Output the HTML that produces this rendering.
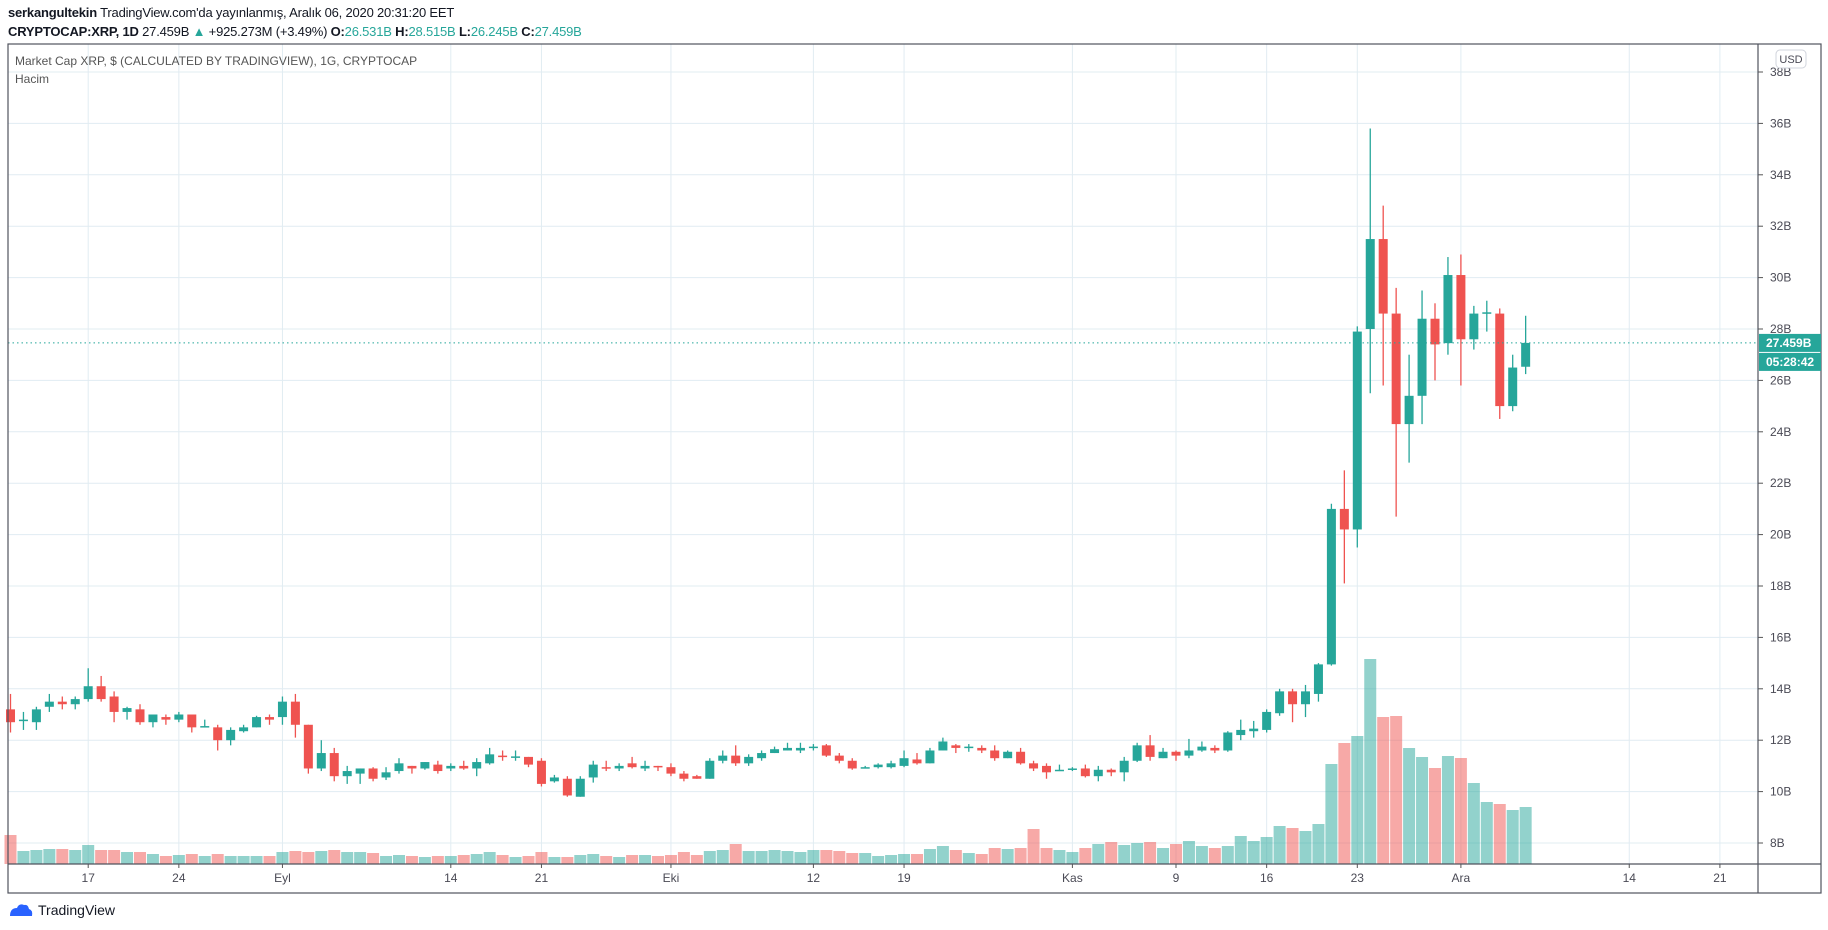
<!DOCTYPE html>
<html><head><meta charset="utf-8">
<style>
body{margin:0;width:1828px;height:930px;background:#fff;overflow:hidden;font-family:"Liberation Sans",sans-serif;}
#hdr1{position:absolute;left:8px;top:5px;font-size:13px;color:#131722;letter-spacing:-0.2px}
#hdr2{position:absolute;left:8px;top:24px;font-size:13px;color:#131722;letter-spacing:-0.2px}
.g{color:#26a69a}
#foot{position:absolute;left:8px;top:902px;font-size:14px;color:#131722;display:flex;align-items:center;gap:4px}
svg{position:absolute;left:0;top:0}
</style></head><body>
<div id="hdr1"><b>serkangultekin</b> TradingView.com'da yayınlanmış, Aralık 06, 2020 20:31:20 EET</div>
<div id="hdr2"><b>CRYPTOCAP:XRP, 1D</b> 27.459B <span class="g">▲</span> +925.273M (+3.49%) <b>O:</b><span class="g">26.531B</span> <b>H:</b><span class="g">28.515B</span> <b>L:</b><span class="g">26.245B</span> <b>C:</b><span class="g">27.459B</span></div>
<svg id="chart" width="1828" height="930"></svg>
<div id="foot"><svg width="26" height="16" style="position:static"><path d="M2 14 Q2 6 9 6 Q11 1 16 3 Q20 2 21 7 Q25 8 24 14 Z" fill="#2962ff"/></svg><span>TradingView</span></div>
<script>
const opens=[13.2,12.8,12.7,13.3,13.5,13.4,13.6,14.1,13.7,13.1,13.2,12.7,12.9,12.8,13.0,12.55,12.5,12.0,12.35,12.5,12.9,
12.9,13.5,12.6,10.9,11.5,10.6,10.7,10.9,10.55,10.8,11.0,10.9,11.05,10.9,11.0,10.9,11.1,11.4,11.37,11.35,11.2,10.4,10.5,9.8,10.55,10.95,10.9,11.1,10.9,11.0,
10.95,10.7,10.6,10.5,11.2,11.4,11.1,11.3,11.5,11.6,11.6,11.7,11.8,11.4,11.2,10.95,10.95,10.95,11.0,11.25,11.1,11.6,11.8,11.7,11.7,11.6,11.3,11.55,11.1,11.0,10.85,
10.85,10.9,10.6,10.85,10.75,11.2,11.8,11.3,11.55,11.4,11.6,11.7,11.6,12.2,12.35,12.4,13.05,13.9,13.4,13.8,14.95,21.0,20.2,28.0,31.5,28.6,24.3,25.4,28.4,27.45,
30.1,27.6,28.6,28.6,25.0,26.531];
const closes=[12.7,12.8,13.2,13.5,13.4,13.6,14.1,13.6,13.1,13.25,12.7,13.0,12.8,13.0,12.5,12.55,12.0,12.4,12.5,12.9,12.8,
13.5,12.6,10.9,11.5,10.6,10.8,10.9,10.5,10.75,11.1,10.9,11.15,10.8,11.0,10.9,11.15,11.45,11.35,11.37,11.05,10.3,10.55,9.85,10.5,11.05,10.93,11.0,10.95,11.0,10.95,
10.7,10.5,10.5,11.2,11.4,11.1,11.35,11.5,11.65,11.7,11.7,11.75,11.4,11.2,10.9,10.95,11.05,11.1,11.3,11.1,11.6,11.95,11.7,11.75,11.6,11.3,11.55,11.1,10.9,10.75,10.85,
10.9,10.6,10.85,10.75,11.2,11.8,11.35,11.55,11.4,11.6,11.75,11.6,12.3,12.4,12.45,13.1,13.9,13.4,13.9,14.95,21.0,20.2,27.9,31.5,28.6,24.3,25.4,28.4,27.4,30.1,
27.6,28.6,28.65,25.0,26.5,27.459];
const highs=[13.8,13.1,13.3,13.8,13.7,13.7,14.8,14.5,13.9,13.3,13.4,13.0,13.0,13.1,13.0,12.8,12.6,12.5,12.6,12.95,13.0,
13.7,13.8,12.6,12.0,11.7,11.0,10.9,10.95,10.95,11.3,11.0,11.15,11.2,11.1,11.2,11.3,11.7,11.6,11.6,11.35,11.3,10.65,10.6,10.6,11.2,11.2,11.1,11.35,11.2,11.0,
11.1,10.8,10.65,11.3,11.6,11.8,11.45,11.6,11.75,11.9,11.9,11.85,11.85,11.5,11.3,11.0,11.1,11.2,11.6,11.5,11.7,12.1,11.85,11.85,11.8,11.8,11.6,11.7,11.2,11.1,11.05,
10.95,11.05,11.0,10.9,11.35,11.9,12.2,11.7,11.6,12.05,11.95,11.8,12.35,12.8,12.75,13.2,14.0,14.0,14.15,15.0,21.2,22.5,28.1,35.8,32.8,29.6,27.0,29.5,29.0,30.8,
30.9,28.9,29.1,28.8,27.0,28.515];
const lows=[12.3,12.4,12.4,13.1,13.2,13.2,13.5,13.5,12.7,12.8,12.6,12.5,12.6,12.7,12.3,12.5,11.6,11.8,12.3,12.5,12.6,
12.6,12.1,10.7,10.8,10.4,10.3,10.3,10.4,10.45,10.7,10.7,10.85,10.7,10.8,10.85,10.6,11.05,11.2,11.2,10.95,10.2,10.35,9.8,9.8,10.35,10.8,10.8,10.9,10.8,10.8,
10.6,10.4,10.5,10.5,11.1,11.0,11.0,11.2,11.5,11.6,11.5,11.6,11.35,11.1,10.85,10.9,10.9,10.9,10.95,11.05,11.1,11.6,11.5,11.55,11.5,11.2,11.3,11.05,10.8,10.5,10.8,
10.8,10.55,10.4,10.6,10.4,11.15,11.2,11.3,11.2,11.3,11.55,11.5,11.55,12.0,12.1,12.3,12.95,12.7,12.9,13.5,14.9,18.1,19.5,25.5,25.8,20.7,22.8,24.3,26.0,27.0,
25.8,27.2,27.9,24.5,24.8,26.245];
const volumes=[29,13,14,15,15,14,19,14,14,12,12,10,8,9,10,8,10,8,8,8,8,12,13,12,13,14,12,12,11,8,9,8,7,8,
8,9,10,12,9,7,8,12,7,7,9,10,8,7,9,9,8,9,12,9,13,14,20,13,13,14,13,12,14,14,13,11,11,8,
9,10,10,15,18,14,11,10,16,15,16,35,16,14,12,16,20,22,19,21,22,16,20,23,18,16,18,28,23,27,38,36,33,40,
100,121,128,205,147,148,116,107,96,108,106,81,62,60,54,57];
const priceTicks=[8,10,12,14,16,18,20,22,24,26,28,30,32,34,36,38];
const dateLabels=["17","24","Eyl","14","21","Eki","12","19","Kas","9","16","23","Ara","14","21"];
const dateLabelIdx=[6,13,21,34,41,51,62,69,82,90,97,104,112,125,132];

const NS="http://www.w3.org/2000/svg";
const svg=document.getElementById('chart');
const L=8,T=44,PR=1758,R=1821,XB=864,B=893;
const yP=v=>843-(v-8)*25.7;
const xI=i=>10.5+i*12.95;
const maxVol=Math.max(...volumes);
const yV=v=>XB-v/maxVol*205;
function el(t,a){const e=document.createElementNS(NS,t);for(const k in a)e.setAttribute(k,a[k]);svg.appendChild(e);return e;}
priceTicks.forEach(p=>{const y=yP(p);
 const g=el('line',{x1:L,x2:PR,y1:y,y2:y,stroke:'#e1ecf2','stroke-width':1});
 
 
 const tk=el('line',{x1:PR,x2:PR+5,y1:y,y2:y,stroke:'#555'});
 
 
 const t=el('text',{x:PR+12,y:y+4,'font-size':12,fill:'#4a4a55','font-family':'Liberation Sans, sans-serif'});
 t.textContent=p+'B';
 
 
});
dateLabels.forEach((d,j)=>{const x=xI(dateLabelIdx[j]);
 const g=el('line',{x1:x,x2:x,y1:T,y2:XB,stroke:'#e1ecf2','stroke-width':1});
 
 
 const tk=el('line',{x1:x,x2:x,y1:XB,y2:XB+4,stroke:'#555'});
 
 
 const t=el('text',{x:x,y:XB+18,'font-size':12,fill:'#4a4a55','text-anchor':'middle','font-family':'Liberation Sans, sans-serif'});
 t.textContent=d;
 
 
});
volumes.forEach((v,i)=>{const up=closes[i]>=opens[i];
 const r=el('rect',{x:xI(i)-6,y:yV(v),width:12,height:XB-yV(v),fill:up?'rgba(38,166,154,0.5)':'rgba(239,83,80,0.5)'});
 
 
});
opens.forEach((o,i)=>{const c=closes[i],up=c>=o,col=up?'#26a69a':'#ef5350',x=xI(i);
 const w=el('line',{x1:x,x2:x,y1:yP(highs[i]),y2:yP(lows[i]),stroke:col,'stroke-width':1.3});
 
 
 const top=yP(Math.max(o,c)),h=Math.max(1.5,Math.abs(yP(o)-yP(c)));
 const b=el('rect',{x:x-4.5,y:top,width:9,height:h,fill:col});
 
 
});
const lastY=yP(closes[closes.length-1]);
const pl=el('line',{x1:L,x2:PR,y1:lastY,y2:lastY,stroke:'#26a69a','stroke-dasharray':'1.5 3','stroke-width':1});


const fr=el('rect',{x:L,y:T,width:R-L,height:B-T,fill:'none',stroke:'#50535e','stroke-width':1.2});


const vs=el('line',{x1:PR,x2:PR,y1:T,y2:B,stroke:'#50535e','stroke-width':1.2});


const hs=el('line',{x1:L,x2:R,y1:XB,y2:XB,stroke:'#50535e','stroke-width':1.2});


const lb=el('rect',{x:PR+1,y:lastY-9,width:62,height:18,fill:'#26a69a'});


const lt=el('text',{x:PR+8,y:lastY+4,'font-size':12,fill:'#fff','font-weight':'bold','font-family':'Liberation Sans, sans-serif'});
lt.textContent='27.459B';


const cb=el('rect',{x:PR+1,y:lastY+10,width:62,height:18,fill:'#26a69a'});


const ct=el('text',{x:PR+8,y:lastY+23,'font-size':12,fill:'#fff','font-weight':'bold','font-family':'Liberation Sans, sans-serif'});
ct.textContent='05:28:42';


const ub=el('rect',{x:1776,y:50,width:30,height:18,rx:4,fill:'#fff',stroke:'#d1d4dc'});


const ut=el('text',{x:1791,y:63,'font-size':11,fill:'#4a4a55','text-anchor':'middle','font-family':'Liberation Sans, sans-serif'});
ut.textContent='USD';


const t1=el('text',{x:15,y:65,'font-size':12,fill:'#555','font-family':'Liberation Sans, sans-serif'});
t1.textContent='Market Cap XRP, $ (CALCULATED BY TRADINGVIEW), 1G, CRYPTOCAP';


const t2=el('text',{x:15,y:83,'font-size':12,fill:'#555','font-family':'Liberation Sans, sans-serif'});
t2.textContent='Hacim';


</script>
</body></html>
